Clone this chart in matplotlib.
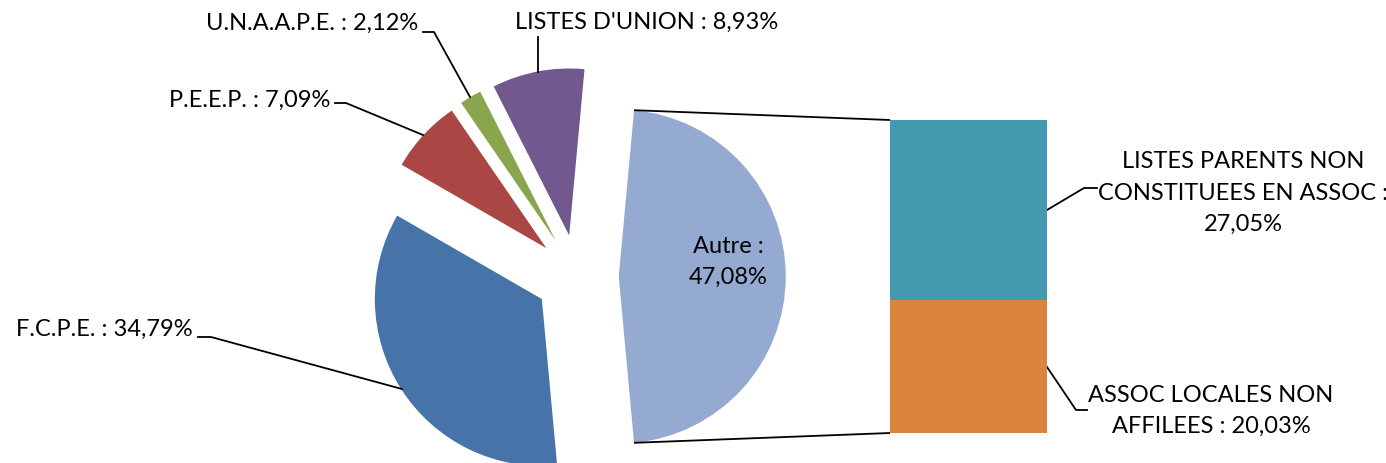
import numpy as np
import matplotlib.pyplot as plt

# pie shares (%)
pie_labels = ['F.C.P.E.', 'P.E.E.P.', 'U.N.A.A.P.E.', "LISTES D'UNION"]
pie_values = [34.79, 7.09, 2.12, 8.93]
pie_colors = ['#4673A8', '#AA4744', '#89A54E', '#71598F']

# split of "Autre" into the bar
bar_labels = ['ASSOC LOCALES NON\nAFFILEES', 'LISTES PARENTS NON\nCONSTITUEES EN ASSOC']
bar_values = [20.03, 27.05]
bar_colors = ['#DB843D', '#4399B0']

autre_label = 'Autre'
autre_color = '#94AAD1'
autre_value = sum(bar_values)

W, H = 1386, 463
plt.rcParams['font.family'] = ['Lato', 'DejaVu Sans']
FS = 17


def fmt(v):
  return ('%.2f' % v).replace('.', ',') + '%'


def Y(y):
  # pixel row (from top) -> data y
  return H - y


fig = plt.figure(figsize=(W / 100, H / 100), dpi=100)
ax = fig.add_axes([0, 0, 1, 1])

values = pie_values + [autre_value]
colors = pie_colors + [autre_color]
R = 167
start = -autre_value / 100 * 180
wedges, _ = ax.pie(values, colors=colors, startangle=start, counterclock=False,
                   explode=[0.25 * R] * len(values), radius=R, center=(577, Y(276.5)),
                   wedgeprops=dict(linewidth=0))
ax.set_xlim(0, W)
ax.set_ylim(0, H)
ax.set_aspect('auto')
ax.axis('off')

# bar of the "Autre" split
bx0, bx1, by_top, by_bot = 890, 1047, 120, 433
ax2 = fig.add_axes([bx0 / W, (H - by_bot) / H, (bx1 - bx0) / W, (by_bot - by_top) / H])
bottom = 0
for v, c in zip(bar_values, bar_colors):
  ax2.bar(0, v, bottom=bottom, width=1, color=c, linewidth=0)
  bottom += v
ax2.set_xlim(-0.5, 0.5)
ax2.set_ylim(0, autre_value)
ax2.axis('off')

# connectors from the Autre wedge to the bar
w = wedges[-1]
cx, cy = w.center
for ang, by in [(w.theta2, by_top), (w.theta1, by_bot)]:
  px = cx + w.r * np.cos(np.radians(ang))
  py = cy + w.r * np.sin(np.radians(ang))
  ax.plot([px, bx0], [py, Y(by)], color='black', lw=1.3, solid_capstyle='butt')

# data labels
LS = 1.6
lab = [l + ' : ' + fmt(v) for l, v in zip(pie_labels, pie_values)]
ax.text(193, Y(329), lab[0], ha='right', va='center', fontsize=FS)
ax.text(330, Y(100), lab[1], ha='right', va='center', fontsize=FS)
ax.text(418, Y(23), lab[2], ha='right', va='center', fontsize=FS)
ax.text(515, Y(22), lab[3], ha='left', va='center', fontsize=FS)
ax.text(728, Y(262), autre_label + ' :\n' + fmt(autre_value), ha='center', va='center',
        fontsize=FS, linespacing=LS)
ax.text(1243, Y(193), bar_labels[1] + ' :\n' + fmt(bar_values[1]), ha='center', va='center',
        fontsize=FS, linespacing=LS)
ax.text(1211, Y(411), bar_labels[0] + ' : ' + fmt(bar_values[0]), ha='center', va='center',
        fontsize=FS, linespacing=LS)

# leader lines
leaders = [
  [(198, 337), (211, 337), (402, 389)],
  [(335, 103), (346, 103), (423, 135)],
  [(423, 32), (434, 32), (470, 97)],
  [(538, 37), (538, 72)],
  [(1047, 210), (1084, 188), (1097, 188)],
  [(1047, 367), (1076, 410), (1087, 410)],
]
for pts in leaders:
  xs = [p[0] for p in pts]
  ys = [Y(p[1]) for p in pts]
  ax.plot(xs, ys, color='black', lw=1.3)

plt.savefig('out.png', dpi=100)
